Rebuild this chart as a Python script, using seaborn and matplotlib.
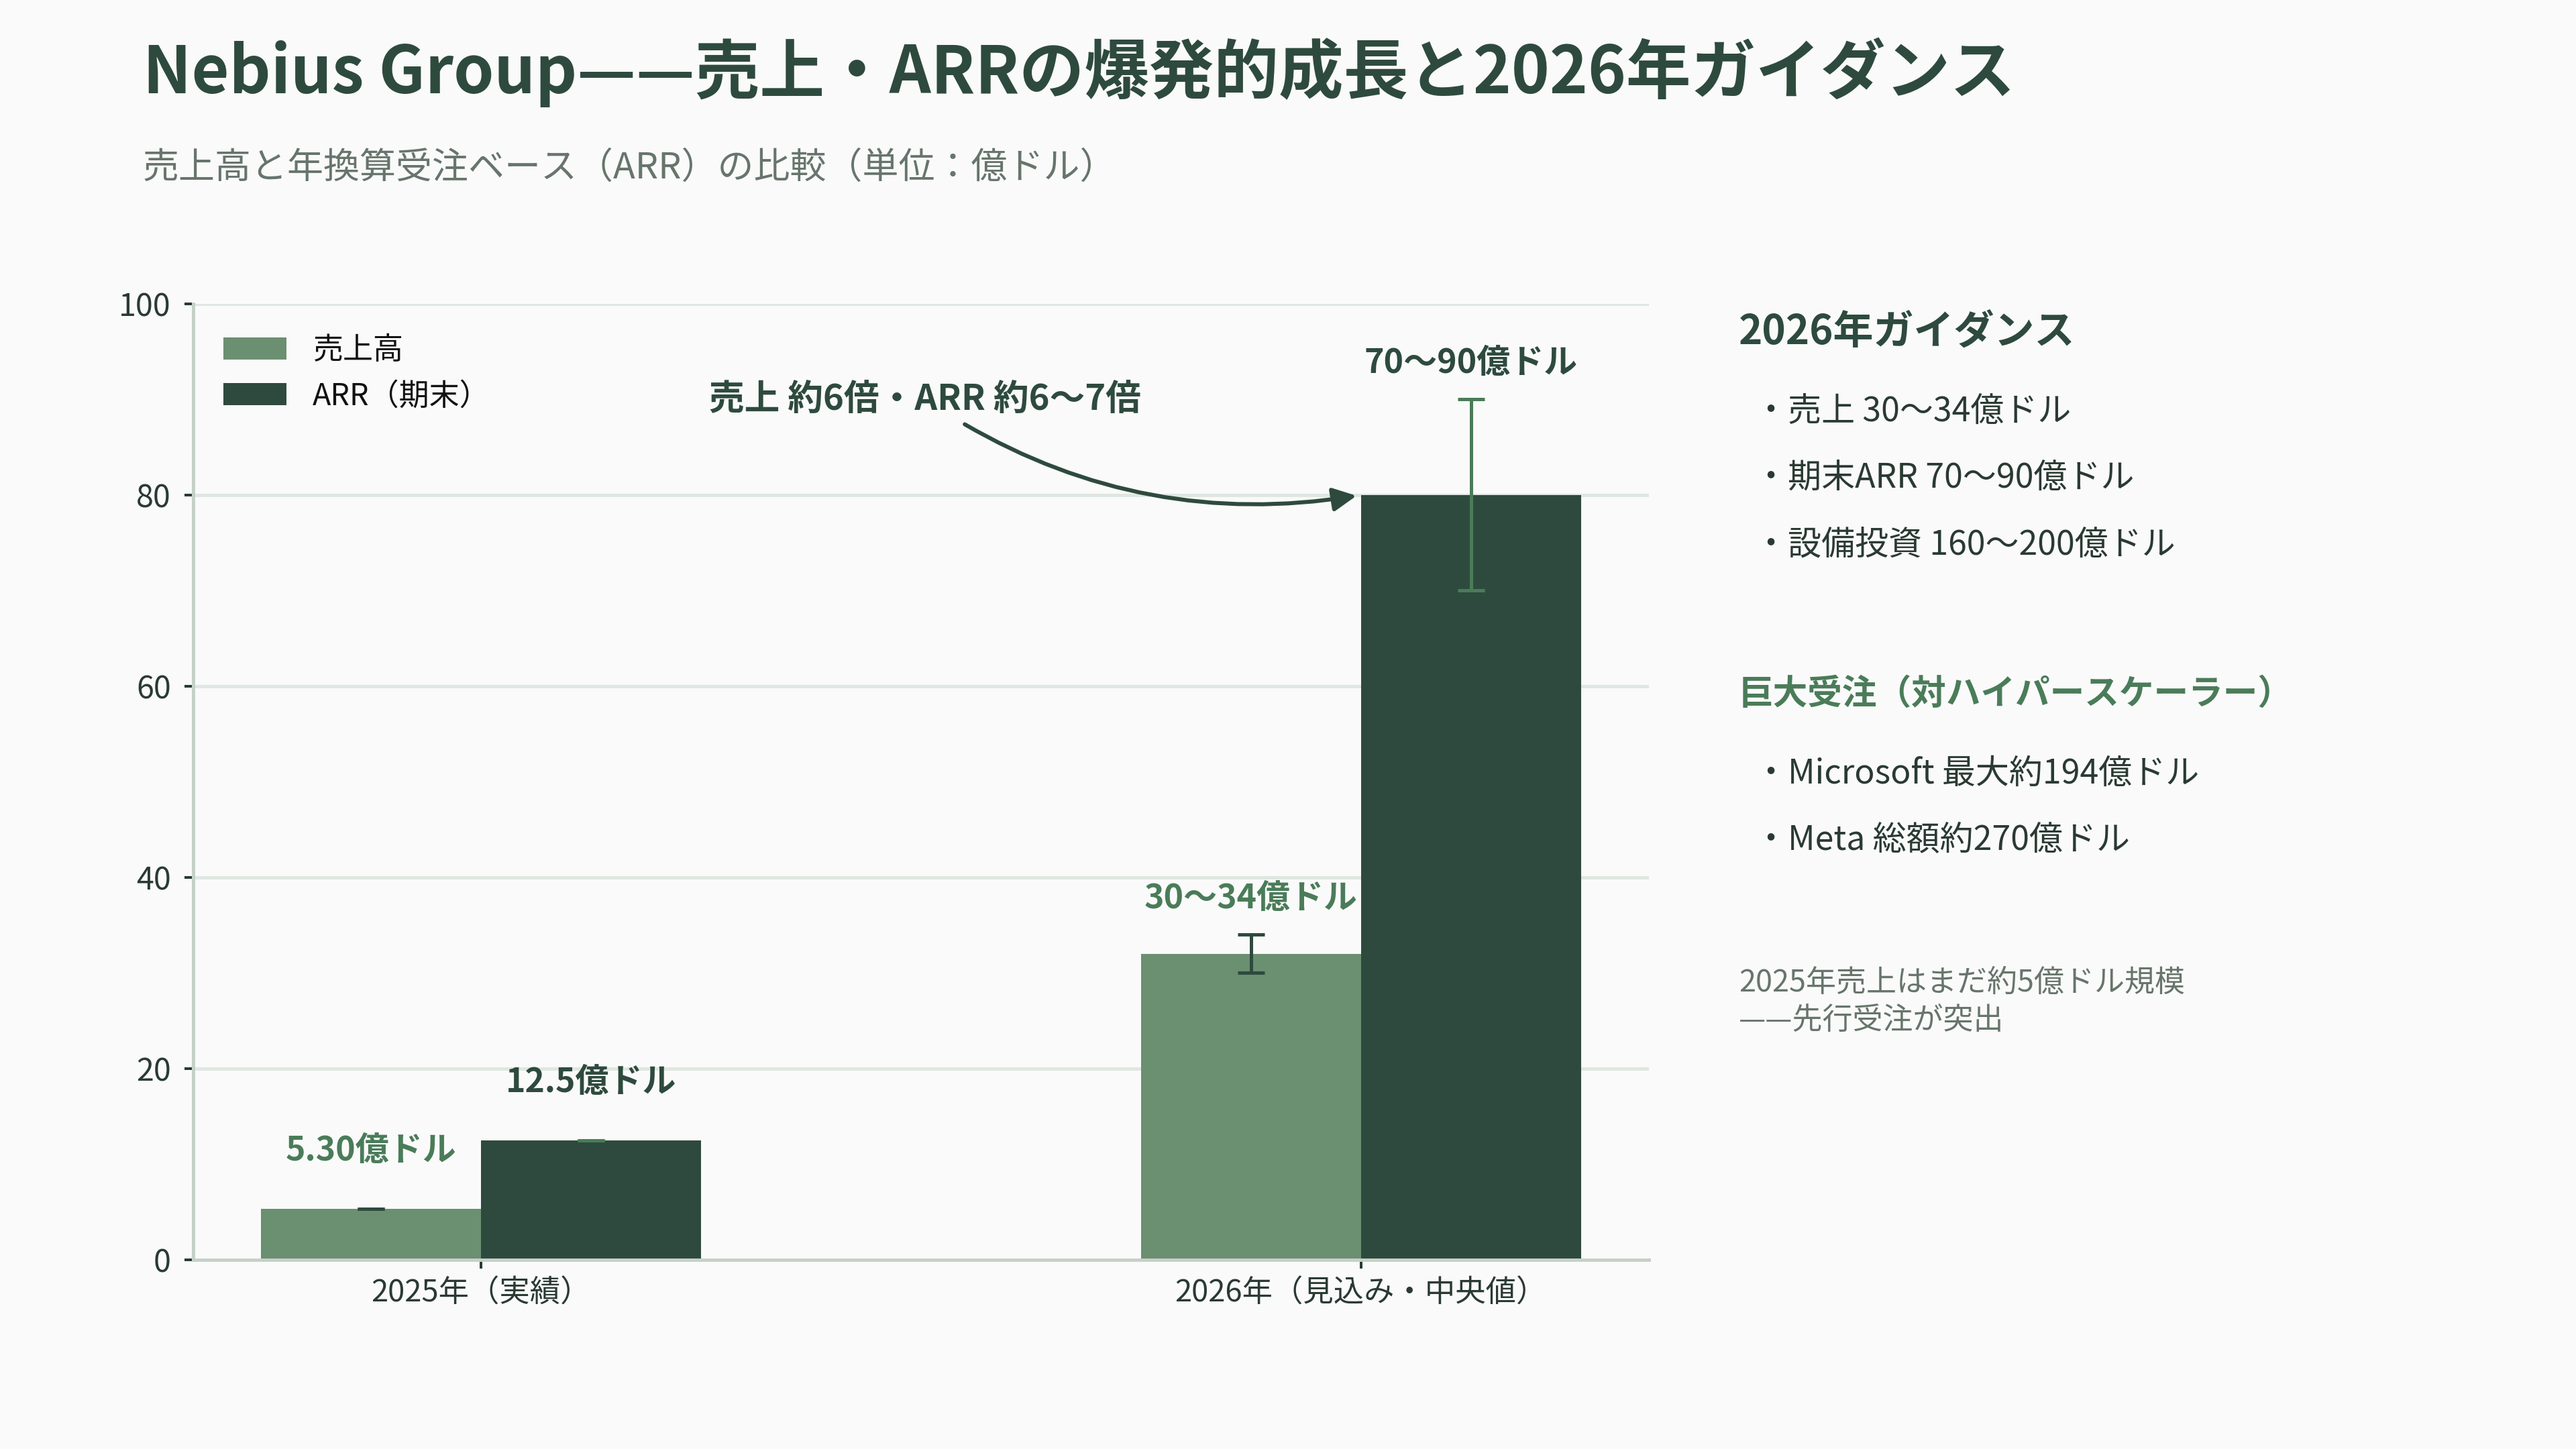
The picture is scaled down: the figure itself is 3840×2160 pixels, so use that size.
# Nebius Group 売上・ARR 比較チャート
import matplotlib
matplotlib.use('Agg')
import pandas as pd
import seaborn as sns
from matplotlib import pyplot as plt

# データ（単位：億ドル）
periods = ['2025年（実績）', '2026年（見込み・中央値）']
series_names = ['売上高', 'ARR（期末）']
sales = [5.30, 32.0]
sales_low = [5.30, 30.0]
sales_high = [5.30, 34.0]
arr = [12.5, 80.0]
arr_low = [12.5, 70.0]
arr_high = [12.5, 90.0]
sales_labels = ['5.30億ドル', '30〜34億ドル']
arr_labels = ['12.5億ドル', '70〜90億ドル']
y_ticks = [0, 20, 40, 60, 80, 100]

guidance_items = ['・売上 30〜34億ドル', '・期末ARR 70〜90億ドル', '・設備投資 160〜200億ドル']
order_items = ['・Microsoft 最大約194億ドル', '・Meta 総額約270億ドル']

# 色
c_sales = '#6b8f71'
c_arr = '#2e4a3e'
c_green = '#4a7c59'
c_text = '#2a3a33'
c_gray = '#67756c'
bg = '#fafafa'

sns.set_theme(style='white')
plt.rcParams['font.family'] = ['Noto Sans CJK JP', 'DejaVu Sans']

df = pd.DataFrame({
    '期間': periods * 2,
    '値': sales + arr,
    '系列': [series_names[0]] * 2 + [series_names[1]] * 2,
})

fig = plt.figure(figsize=(16, 9), dpi=240, facecolor=bg)
ax = fig.add_axes([0.075, 0.1306, 0.565, 0.6597])
ax.set_facecolor(bg)

sns.barplot(data=df, x='期間', y='値', hue='系列', palette=[c_sales, c_arr],
            width=0.5, saturation=1, errorbar=None, linewidth=0, ax=ax)

# エラーバーと数値ラベル
series = [(sales, sales_low, sales_high, sales_labels, c_arr, c_green),
          (arr, arr_low, arr_high, arr_labels, c_green, c_arr)]
for cont, (vals, lows, highs, labels, ecol, tcol) in zip(ax.containers, series):
    for bar, v, lo, hi, lab in zip(cont, vals, lows, highs, labels):
        xc = bar.get_x() + bar.get_width() / 2
        ax.errorbar([xc], [v], yerr=[[v - lo], [hi - v]], fmt='none', ecolor=ecol,
                    capsize=6, elinewidth=1.5, capthick=1.5, zorder=4)
        pad = 4.3 if lo == hi else 2.0
        ax.text(xc, hi + pad, lab, ha='center', va='bottom', fontsize=15,
                fontweight='bold', color=tcol)

# 倍率の注記
arr_bar = ax.containers[1][1]
ax.annotate('売上 約6倍・ARR 約6〜7倍', xy=(arr_bar.get_x(), arr[1]), xytext=(0.505, 90.0),
            ha='center', va='center', fontsize=15.8, fontweight='bold', color=c_arr,
            arrowprops=dict(arrowstyle='-|>', color=c_arr, lw=1.8, mutation_scale=22,
                            connectionstyle='arc3,rad=0.2', shrinkB=2))

ax.set_ylim(0, 100)
ax.set_xlim(-0.327, 1.327)
ax.set_yticks(y_ticks)
ax.set_xlabel('')
ax.set_ylabel('')
ax.yaxis.grid(True, color='#dfe7e1', lw=1.5)
ax.set_axisbelow(True)
for s in ['top', 'right']:
    ax.spines[s].set_visible(False)
for s in ['left', 'bottom']:
    ax.spines[s].set_color('#c5d1c8')
    ax.spines[s].set_linewidth(1.5)
ax.tick_params(axis='y', length=4, width=1.2, color=c_text, labelsize=14,
               labelcolor=c_text, pad=6, left=True)
ax.tick_params(axis='x', length=4, width=1.2, color=c_text, labelsize=13.6,
               labelcolor=c_text, pad=4, bottom=True)

leg = ax.legend(loc='upper left', frameon=False, fontsize=13.5, handlelength=2.1,
                handleheight=0.75, handletextpad=0.85, labelspacing=0.5,
                bbox_to_anchor=(0.002, 0.996))
for t in leg.get_texts():
    t.set_color('#111111')

# タイトル
fig.text(0.0555, 0.95, 'Nebius Group——売上・ARRの爆発的成長と2026年ガイダンス',
         fontsize=29, fontweight='bold', color=c_arr, va='center', ha='left')
fig.text(0.0555, 0.884, '売上高と年換算受注ベース（ARR）の比較（単位：億ドル）',
         fontsize=16.2, color=c_gray, va='center', ha='left')

# 右側パネル
px = 0.675
fig.text(px, 0.771, '2026年ガイダンス', fontsize=18, fontweight='bold', color=c_arr, va='center')
for i, item in enumerate(guidance_items):
    fig.text(px + 0.006, 0.716 - i * 0.046, item, fontsize=15, color=c_text, va='center')
fig.text(px, 0.521, '巨大受注（対ハイパースケーラー）', fontsize=15.5, fontweight='bold',
         color=c_green, va='center')
for i, item in enumerate(order_items):
    fig.text(px + 0.006, 0.466 - i * 0.046, item, fontsize=15, color=c_text, va='center')
fig.text(px, 0.322, '2025年売上はまだ約5億ドル規模', fontsize=13.5, color=c_gray, va='center')
fig.text(px, 0.296, '——先行受注が突出', fontsize=13.5, color=c_gray, va='center')

plt.savefig('out.png', dpi=240, facecolor=bg)
